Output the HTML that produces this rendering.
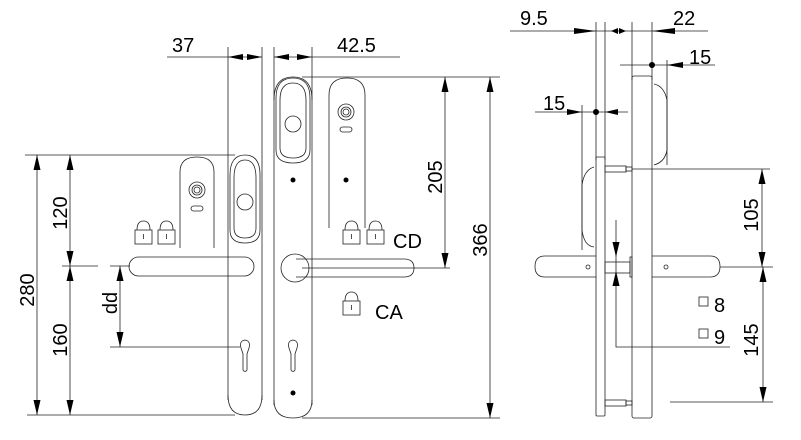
<!DOCTYPE html>
<html><head><meta charset="utf-8"><style>
html,body{margin:0;padding:0;background:#fff;}
svg{display:block;}
text{font-family:"Liberation Sans",sans-serif;font-size:20px;fill:#000;}
</style></head><body>
<svg width="801" height="440" viewBox="0 0 801 440" xmlns="http://www.w3.org/2000/svg">
<g stroke="#222" stroke-width="0.8" fill="none">
<line x1="167" y1="57" x2="262" y2="57"/>
<line x1="274" y1="57" x2="400" y2="57"/>
<line x1="228" y1="47" x2="228" y2="400"/>
<line x1="262" y1="47" x2="262" y2="400"/>
<line x1="274" y1="47" x2="274" y2="405"/>
<line x1="312" y1="47" x2="312" y2="405"/>
<path d="M228,395 Q228,415 245,415 Q262,415 262,395"/>
<path d="M274,400 Q274,418 293,418 Q312,418 312,400"/>
<path d="M274,100 Q274,77 293,77 Q312,77 312,100"/>
<path d="M230,175 Q230,155 245,155 Q260,155 260,175 L260,230 Q260,243 245,243 Q230,243 230,230 Z"/>
<path d="M234,178 Q234,160 245,160 Q256,160 256,178 L256,228 Q256,238 245,238 Q234,238 234,228 Z"/>
<circle cx="245" cy="202" r="8"/>
<path d="M276,98 Q276,78 293,78 Q310,78 310,98 L310,150 Q310,163 293,163 Q276,163 276,150 Z"/>
<path d="M280,100 Q280,83 293,83 Q306,83 306,100 L306,148 Q306,158 293,158 Q280,158 280,148 Z"/>
<circle cx="293" cy="124" r="8"/>
<path d="M180,248 L180,172 Q180,157 197,157 Q214,157 214,172 L214,248"/>
<path d="M329,228 L329,95 Q329,78 347,78 Q365,78 365,95 L365,228"/>
<circle cx="197" cy="190" r="8"/><circle cx="197" cy="190" r="5"/><circle cx="197" cy="190" r="3"/>
<circle cx="346" cy="112" r="8"/><circle cx="346" cy="112" r="5"/><circle cx="346" cy="112" r="3"/>
<rect x="191" y="206" width="12" height="5" rx="2.5"/>
<rect x="340" y="127" width="12" height="5" rx="2.5"/>
<rect x="129" y="257" width="125" height="19" rx="9.5"/>
<circle cx="295" cy="268" r="14"/>
<path d="M296,259 L404,259 Q414,259 414,268 Q414,277 404,277 L296,277"/>
<line x1="302" y1="268" x2="450" y2="268"/>
<path d="M241,348 Q239,341 245,340 Q251,341 249,348 L247,354 L247,370 Q245,373 243,370 L243,354 Z"/>
<path d="M289,348 Q287,341 293,340 Q299,341 297,348 L295,354 L295,370 Q293,373 291,370 L291,354 Z"/>
<line x1="25" y1="155" x2="235" y2="155"/>
<line x1="27" y1="415" x2="235" y2="415"/>
<line x1="62" y1="266" x2="98" y2="266"/>
<line x1="110" y1="266" x2="130" y2="266"/>
<line x1="110" y1="347" x2="240" y2="347"/>
<line x1="37" y1="155" x2="37" y2="415"/>
<line x1="70" y1="155" x2="70" y2="415"/>
<line x1="120" y1="266" x2="120" y2="347"/>
<line x1="302" y1="77" x2="500" y2="77"/>
<line x1="302" y1="418" x2="500" y2="418"/>
<line x1="445" y1="77" x2="445" y2="268"/>
<line x1="490" y1="77" x2="490" y2="418"/>
<g id="pl"><rect x="135" y="230" width="17" height="14"/><path d="M137,230 Q137,221 143.5,221 Q150,221 150,230"/><path d="M143.5,234 v5"/></g>
<use href="#pl" x="23"/><use href="#pl" x="208"/><use href="#pl" x="232"/><use href="#pl" x="208" y="71"/>
<line x1="510" y1="31" x2="708" y2="31"/>
<line x1="596" y1="22" x2="596" y2="160"/>
<line x1="605" y1="22" x2="605" y2="160"/>
<line x1="632" y1="22" x2="632" y2="80"/>
<line x1="652" y1="22" x2="652" y2="80"/>
<line x1="620" y1="65" x2="715" y2="65"/>
<line x1="667" y1="60" x2="667" y2="165"/>
<line x1="535" y1="112" x2="628" y2="112"/>
<line x1="582" y1="105" x2="582" y2="250"/>
<rect x="596" y="157" width="9" height="259" rx="1"/>
<rect x="632" y="76" width="20" height="342" rx="2"/>
<path d="M654,84 Q664,86 667,100 L667,150 Q665,162 654,165"/>
<path d="M594,167 Q584,170 582,185 L582,230 Q584,246 594,247"/>
<rect x="605" y="166" width="21" height="6"/><rect x="626" y="167" width="6" height="4"/>
<rect x="605" y="400" width="21" height="6"/><rect x="626" y="401" width="6" height="4"/>
<rect x="605" y="262" width="25" height="11"/><rect x="630" y="257" width="2" height="20"/>
<path d="M596,256 L545,256 Q535,256 535,266.5 Q535,277 545,277 L596,277"/>
<path d="M652,256 L710,256 Q720,256 720,266.5 Q720,277 710,277 L652,277"/>
<circle cx="588" cy="267" r="2"/><circle cx="666" cy="267" r="2"/>
<line x1="632" y1="169" x2="770" y2="169"/>
<line x1="720" y1="267" x2="773" y2="267"/>
<line x1="670" y1="402" x2="773" y2="402"/>
<line x1="762" y1="169" x2="762" y2="267"/>
<line x1="763" y1="267" x2="763" y2="402"/>
<path d="M616,220 L616,347 L730,347"/>
<rect x="699" y="297" width="9" height="9"/>
<rect x="699" y="329" width="9" height="9"/>
</g>
<g fill="#000">
<circle cx="293" cy="180" r="2.5"/><circle cx="293" cy="393" r="2.5"/><circle cx="346" cy="180" r="2.5"/>
<circle cx="652" cy="65" r="3"/><circle cx="596" cy="112" r="3"/>
<polygon points="228,57 243,54 243,60"/><polygon points="262,57 247,54 247,60"/>
<polygon points="274,57 289,54 289,60"/><polygon points="312,57 297,54 297,60"/>
<polygon points="596,31 574,28 574,34"/><polygon points="611,31 618,28 618,34"/>
<polygon points="626,31 619,28 619,34"/><polygon points="652,31 675,28 675,34"/>
<polygon points="667,65 683,62 683,68"/>
<polygon points="582,112 567,109 567,115"/><polygon points="605,112 618,109 618,115"/>
<polygon points="37,155 33.5,170 40.5,170"/><polygon points="37,415 33.5,400 40.5,400"/>
<polygon points="70,155 66.5,170 73.5,170"/><polygon points="70,266 66.5,251 73.5,251"/>
<polygon points="70,266 66.5,281 73.5,281"/><polygon points="70,415 66.5,400 73.5,400"/>
<polygon points="120,266 116.5,281 123.5,281"/><polygon points="120,347 116.5,332 123.5,332"/>
<polygon points="445,77 441.5,92 448.5,92"/><polygon points="445,268 441.5,253 448.5,253"/>
<polygon points="490,77 486.5,92 493.5,92"/><polygon points="490,418 486.5,403 493.5,403"/>
<polygon points="762,169 758.5,184 765.5,184"/><polygon points="762,267 758.5,252 765.5,252"/>
<polygon points="763,267 759.5,282 766.5,282"/><polygon points="763,402 759.5,387 766.5,387"/>
<polygon points="616,257 612.5,242 619.5,242"/><polygon points="616,271 612.5,286 619.5,286"/>
</g>
<text x="172" y="52">37</text>
<text x="337" y="52">42.5</text>
<text x="520" y="25">9.5</text>
<text x="673" y="25">22</text>
<text x="689" y="64">15</text>
<text x="543" y="110">15</text>
<text x="393" y="248">CD</text>
<text x="375" y="319">CA</text>
<text x="714" y="312">8</text>
<text x="714" y="344">9</text>
<text transform="translate(34,290) rotate(-90)" text-anchor="middle">280</text>
<text transform="translate(67,213) rotate(-90)" text-anchor="middle">120</text>
<text transform="translate(67,340) rotate(-90)" text-anchor="middle">160</text>
<text transform="translate(117,303) rotate(-90)" text-anchor="middle">dd</text>
<text transform="translate(442,177) rotate(-90)" text-anchor="middle">205</text>
<text transform="translate(487,240) rotate(-90)" text-anchor="middle">366</text>
<text transform="translate(758,215) rotate(-90)" text-anchor="middle">105</text>
<text transform="translate(758,340) rotate(-90)" text-anchor="middle">145</text>
</svg>
</body></html>
